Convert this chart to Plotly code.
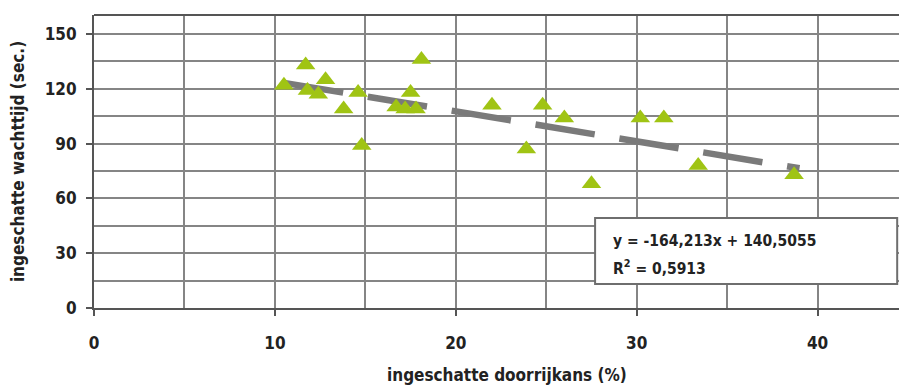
import plotly.graph_objects as go

# data: estimated doorrijkans (%) vs estimated waiting time (sec.)
doorrijkans = [10.5, 11.7, 11.8, 12.4, 12.8, 13.8, 14.6, 14.8, 16.7, 17.2, 17.5,
               17.8, 18.1, 22.0, 23.9, 24.8, 26.0, 27.5, 30.2, 31.5, 33.4, 38.7]
wachttijd = [122, 133, 119, 117, 125, 109, 118, 89, 110, 109, 118,
             109, 136, 111, 87, 111, 104, 68, 104, 104, 78, 73]

slope = -164.213
intercept = 140.5055
r2 = 0.5913
trend_x = [10.5, 39.0]
trend_y = [intercept + slope * v / 100 for v in trend_x]

x_ticks = [0, 10, 20, 30, 40]
y_ticks = [0, 30, 60, 90, 120, 150]
x_title = "ingeschatte doorrijkans (%)"
y_title = "ingeschatte wachttijd (sec.)"

FONT = "DejaVu Sans Condensed, Liberation Sans Narrow, sans-serif"

fig = go.Figure()
fig.add_trace(go.Scatter(
    x=trend_x, y=trend_y, mode="lines",
    line=dict(color="#7a7a7a", width=6.5, dash="60px,25px"),
    hoverinfo="skip", showlegend=False))
fig.add_trace(go.Scatter(
    x=doorrijkans, y=wachttijd, mode="markers",
    marker=dict(symbol="triangle-up", size=17, color="#a0c414",
                line=dict(width=0)),
    showlegend=False))

fig.add_shape(type="rect", xref="x", yref="y", x0=27.7, x1=44.4, y0=13.1, y1=49.3,
              line=dict(color="#6e6e6e", width=2), fillcolor="white", layer="above")
eq_text = f"y = {slope:.3f}x + {intercept:.4f}".replace(".", ",")
r2_text = f"R<sup>2</sup> = {r2:.4f}".replace(".", ",")
fig.add_annotation(xref="x", yref="y", x=28.6, y=36.8, xanchor="left", yanchor="middle",
                   align="left", showarrow=False, text=f"<b>{eq_text}</b>",
                   font=dict(family=FONT, size=15.5, color="#222"))
fig.add_annotation(xref="x", yref="y", x=28.6, y=22.0, xanchor="left", yanchor="middle",
                   align="left", showarrow=False, text=f"<b>{r2_text}</b>",
                   font=dict(family=FONT, size=15.5, color="#222"))
# x-axis title (centred on the full, partly cropped plot area)
fig.add_annotation(xref="paper", yref="paper", x=0.513, y=-0.229, xanchor="center",
                   yanchor="middle", showarrow=False, text=f"<b>{x_title}</b>",
                   font=dict(family=FONT, size=17, color="#222"))

fig.update_layout(
    width=899, height=386,
    margin=dict(l=94, r=0, t=15, b=78),
    paper_bgcolor="white", plot_bgcolor="white",
    font=dict(family=FONT, size=17, color="#222"),
    xaxis=dict(range=[0, 44.5], tickvals=x_ticks, ticktext=[f"<b>{v}</b>" for v in x_ticks],
               showgrid=True, gridcolor="#858585", gridwidth=1.5,
               minor=dict(dtick=5, tick0=0, showgrid=True, gridcolor="#858585", gridwidth=1.5, ticks=""),
               showline=True, linecolor="#555", linewidth=2, mirror=False,
               ticks="outside", ticklen=6, tickcolor="#555", tickwidth=2,
               ticklabelstandoff=13,
               zeroline=False),
    yaxis=dict(range=[0, 160.4], tickvals=y_ticks, ticktext=[f"<b>{v}</b>" for v in y_ticks],
               showgrid=True, gridcolor="#858585", gridwidth=1.5,
               minor=dict(dtick=15, tick0=0, showgrid=True, gridcolor="#858585", gridwidth=1.5, ticks=""),
               showline=True, linecolor="#555", linewidth=2,
               ticks="outside", ticklen=6, tickcolor="#555", tickwidth=2,
               ticklabelstandoff=6,
               zeroline=False,
               title=dict(text=f"<b>{y_title}</b>", standoff=16,
                          font=dict(family=FONT, size=17))),
)
fig.add_shape(type="line", xref="paper", yref="paper", x0=0, x1=1, y0=1, y1=1,
              line=dict(color="#555", width=2))

fig.write_html("out.html")
